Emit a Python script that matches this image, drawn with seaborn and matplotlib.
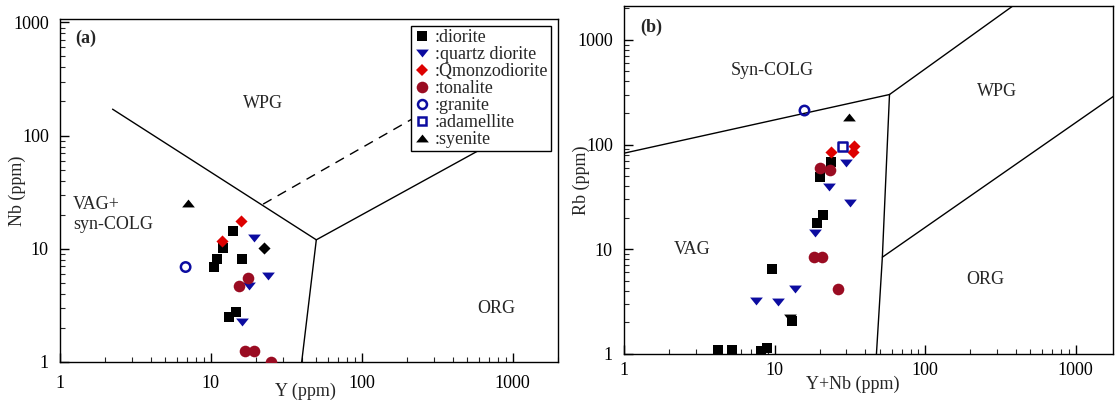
import numpy as np
import pandas as pd
import matplotlib
matplotlib.use("Agg")
import matplotlib.pyplot as plt
from matplotlib.lines import Line2D
from matplotlib.path import Path
import seaborn as sns

# ---------------- data: panel (a) Y vs Nb ----------------
a_diorite_x = [14.0, 12.1, 11.0, 16.2, 10.5, 14.6, 13.2]
a_diorite_y = [14.3, 10.1, 8.2, 8.06, 6.9, 2.75, 2.5]
a_qdiorite_x = [19.4, 24.1, 17.9, 16.2]
a_qdiorite_y = [12.4, 5.74, 4.7, 2.27]
a_qmonzo_x = [15.8, 11.8]
a_qmonzo_y = [17.6, 11.7]
a_tonalite_x = [17.7, 15.3, 16.9, 19.4, 25.2]
a_tonalite_y = [5.5, 4.7, 1.25, 1.25, 1.0]
a_granite_x = [6.8]
a_granite_y = [6.9]
a_adamellite_x = []
a_adamellite_y = []
a_syenite_x = [7.07]
a_syenite_y = [25.5]
a_other_x = [22.5]          # black diamond (not in legend)
a_other_y = [10.1]

# ---------------- data: panel (b) Y+Nb vs Rb ----------------
b_diorite_x = [23.7, 19.9, 20.9, 19.1, 9.66, 13.1, 4.21, 5.21, 8.16, 8.9]
b_diorite_y = [68.7, 49.3, 21.4, 17.8, 6.44, 2.05, 1.1, 1.1, 1.07, 1.13]
b_qdiorite_x = [29.8, 23.1, 31.9, 18.6, 13.7, 7.48, 10.6]
b_qdiorite_y = [67.0, 39.1, 27.9, 14.4, 4.2, 3.2, 3.14]
b_qmonzo_x = [33.9, 33.0, 23.7]
b_qmonzo_y = [97.0, 84.4, 84.4]
b_tonalite_x = [19.9, 23.4, 18.4, 20.7, 26.3]
b_tonalite_y = [59.4, 57.2, 8.5, 8.5, 4.2]
b_granite_x = [15.8]
b_granite_y = [211.0]
b_adamellite_x = [28.1]
b_adamellite_y = [94.9]
b_syenite_x = [31.4]
b_syenite_y = [182.0]
b_other_x = [12.6]          # black down triangle (not in legend)
b_other_y = [2.19]

# ---------------- discrimination boundaries ----------------
a_line1_x = [2.23, 50]; a_line1_y = [171, 12]
a_line2_x = [50, 40];   a_line2_y = [12, 1]
a_line3_x = [50, 700];  a_line3_y = [12, 83]
a_dash_x = [22.2, 450]; a_dash_y = [24.8, 245]

b_line1_x = [1, 58];      b_line1_y = [82.6, 300]
b_line2_x = [58, 400];    b_line2_y = [300, 2200]
b_line3_x = [58, 52, 47.5]; b_line3_y = [300, 8.4, 1]
b_line4_x = [52, 3000];   b_line4_y = [8.4, 485]

categories = [":diorite", ":quartz diorite", ":Qmonzodiorite", ":tonalite",
              ":granite", ":adamellite", ":syenite"]
tick_vals = [1, 10, 100, 1000]
tick_labels = ["1", "10", "100", "1000"]

# ---------------- style ----------------
sns.set_theme(style="white")
plt.rcParams["font.family"] = ["Liberation Serif", "DejaVu Serif"]

BLUE = "#0c0ca0"
RED = "#dd0000"
DRED = "#9a0c22"
BLACK = "#000000"

tri_down = Path([(-1, 0.62), (1, 0.62), (0, -0.62), (-1, 0.62)],
                [Path.MOVETO, Path.LINETO, Path.LINETO, Path.CLOSEPOLY])
tri_up = Path([(-1, -0.62), (1, -0.62), (0, 0.62), (-1, -0.62)],
              [Path.MOVETO, Path.LINETO, Path.LINETO, Path.CLOSEPOLY])

styles = {
    ":diorite": dict(marker="s", color=BLACK, s=60, open=False),
    ":quartz diorite": dict(marker=tri_down, color=BLUE, s=84, open=False),
    ":Qmonzodiorite": dict(marker="D", color=RED, s=38, open=False),
    ":tonalite": dict(marker="o", color=DRED, s=70, open=False),
    ":granite": dict(marker="o", color=BLUE, s=46, open=True),
    ":adamellite": dict(marker="s", color=BLUE, s=42, open=True),
    ":syenite": dict(marker=tri_up, color=BLACK, s=84, open=False),
}


def draw_points(ax, xs, ys, st):
    if len(xs) == 0:
        return
    df = pd.DataFrame({"x": xs, "y": ys})
    sns.scatterplot(data=df, x="x", y="y", ax=ax, marker=st["marker"],
                    color=st["color"], s=st["s"],
                    edgecolor=st["color"], linewidth=1.8 if st["open"] else 0,
                    zorder=5, legend=False)
    if st["open"]:
        ax.collections[-1].set_facecolor("none")


fig = plt.figure(figsize=(11.15, 4.04), dpi=100)
W, H = 1115, 404
axa = fig.add_axes([60 / W, (H - 362) / H, 498 / W, 343 / H])
axb = fig.add_axes([624 / W, (H - 354) / H, 489 / W, 348 / H])

line_kw = dict(color="black", lw=1.0, zorder=2)
axa.plot(a_line1_x, a_line1_y, **line_kw)
axa.plot(a_line2_x, a_line2_y, **line_kw)
axa.plot(a_line3_x, a_line3_y, **line_kw)
axa.plot(a_dash_x, a_dash_y, color="black", lw=1.0, ls=(0, (7, 5)), zorder=2)

axb.plot(b_line1_x, b_line1_y, **line_kw)
axb.plot(b_line2_x, b_line2_y, **line_kw)
axb.plot(b_line3_x, b_line3_y, **line_kw)
axb.plot(b_line4_x, b_line4_y, **line_kw)

a_series = [(a_diorite_x, a_diorite_y), (a_qdiorite_x, a_qdiorite_y),
            (a_qmonzo_x, a_qmonzo_y), (a_tonalite_x, a_tonalite_y),
            (a_granite_x, a_granite_y), (a_adamellite_x, a_adamellite_y),
            (a_syenite_x, a_syenite_y)]
b_series = [(b_diorite_x, b_diorite_y), (b_qdiorite_x, b_qdiorite_y),
            (b_qmonzo_x, b_qmonzo_y), (b_tonalite_x, b_tonalite_y),
            (b_granite_x, b_granite_y), (b_adamellite_x, b_adamellite_y),
            (b_syenite_x, b_syenite_y)]

for cat, (xs, ys) in zip(categories, a_series):
    draw_points(axa, xs, ys, styles[cat])
for cat, (xs, ys) in zip(categories, b_series):
    draw_points(axb, xs, ys, styles[cat])
draw_points(axa, a_other_x, a_other_y, dict(marker="D", color=BLACK, s=38, open=False))
draw_points(axb, b_other_x, b_other_y, dict(marker=tri_down, color=BLACK, s=84, open=False))

FS = 13
for ax, ymax, xmax in [(axa, 1070, 2000), (axb, 2100, 1770)]:
    ax.set_xscale("log")
    ax.set_yscale("log")
    ax.set_xlim(1, xmax)
    ax.set_ylim(1, ymax)
    ax.set_xticks(tick_vals)
    ax.set_xticklabels(tick_labels)
    ax.set_yticks(tick_vals)
    ax.set_yticklabels(tick_labels)
    ax.xaxis.set_minor_locator(matplotlib.ticker.LogLocator(base=10, subs=np.arange(2, 10)))
    ax.yaxis.set_minor_locator(matplotlib.ticker.LogLocator(base=10, subs=np.arange(2, 10)))
    ax.xaxis.set_minor_formatter(matplotlib.ticker.NullFormatter())
    ax.yaxis.set_minor_formatter(matplotlib.ticker.NullFormatter())
    ax.tick_params(which="major", direction="in", length=6.7, width=1.0,
                   labelsize=FS, colors="black", left=True, bottom=True,
                   top=False, right=False)
    ax.tick_params(which="minor", direction="in", length=3.6, width=0.8,
                   left=True, bottom=True, top=False, right=False)
    ax.tick_params(axis="y", which="major", pad=8)
    for sp in ax.spines.values():
        sp.set_color("black")
        sp.set_linewidth(1.0)
    ax.set_facecolor("white")
    ax.grid(False)

axa.tick_params(axis="x", which="major", pad=9)
axb.tick_params(axis="x", which="major", pad=6)

axa.set_xlabel("Y (ppm)", fontsize=FS)
axa.set_ylabel("Nb (ppm)", fontsize=FS)
axa.xaxis.set_label_coords(0.492, -0.060)
axa.yaxis.set_label_coords(-0.068, 0.50)
axb.set_xlabel("Y+Nb (ppm)", fontsize=FS)
axb.set_ylabel("Rb (ppm)", fontsize=FS)
axb.xaxis.set_label_coords(0.468, -0.062)
axb.yaxis.set_label_coords(-0.069, 0.50)

# region labels
axa.text(0.030, 0.945, "(a)", transform=axa.transAxes, fontsize=FS,
         fontweight="bold", ha="left", va="center")
axa.text(0.408, 0.755, "WPG", transform=axa.transAxes, fontsize=FS, ha="center", va="center")
axa.text(0.026, 0.43, "VAG+\nsyn-COLG", transform=axa.transAxes, fontsize=FS,
         ha="left", va="center", linespacing=1.25)
axa.text(0.877, 0.155, "ORG", transform=axa.transAxes, fontsize=FS, ha="center", va="center")

axb.text(0.033, 0.94, "(b)", transform=axb.transAxes, fontsize=FS,
         fontweight="bold", ha="left", va="center")
axb.text(0.303, 0.816, "Syn-COLG", transform=axb.transAxes, fontsize=FS, ha="center", va="center")
axb.text(0.763, 0.753, "WPG", transform=axb.transAxes, fontsize=FS, ha="center", va="center")
axb.text(0.139, 0.299, "VAG", transform=axb.transAxes, fontsize=FS, ha="center", va="center")
axb.text(0.738, 0.213, "ORG", transform=axb.transAxes, fontsize=FS, ha="center", va="center")

# legend
handles = []
for cat in categories:
    st = styles[cat]
    ms = np.sqrt(st["s"])
    if st["open"]:
        h = Line2D([], [], ls="none", marker=st["marker"], markersize=ms * 0.95,
                   markerfacecolor="none", markeredgecolor=st["color"], markeredgewidth=1.8)
    else:
        h = Line2D([], [], ls="none", marker=st["marker"], markersize=ms,
                   markerfacecolor=st["color"], markeredgecolor=st["color"], markeredgewidth=0)
    handles.append(h)
leg = axa.legend(handles, categories, loc="upper right", fontsize=13,
                 frameon=True, fancybox=False, framealpha=1, edgecolor="black",
                 handlelength=0.9, handletextpad=0.25, labelspacing=0.0,
                 borderpad=0.15, borderaxespad=0.4)
leg.get_frame().set_linewidth(1.0)
leg.set_zorder(10)

fig.savefig("out.png", dpi=100, facecolor="white")
